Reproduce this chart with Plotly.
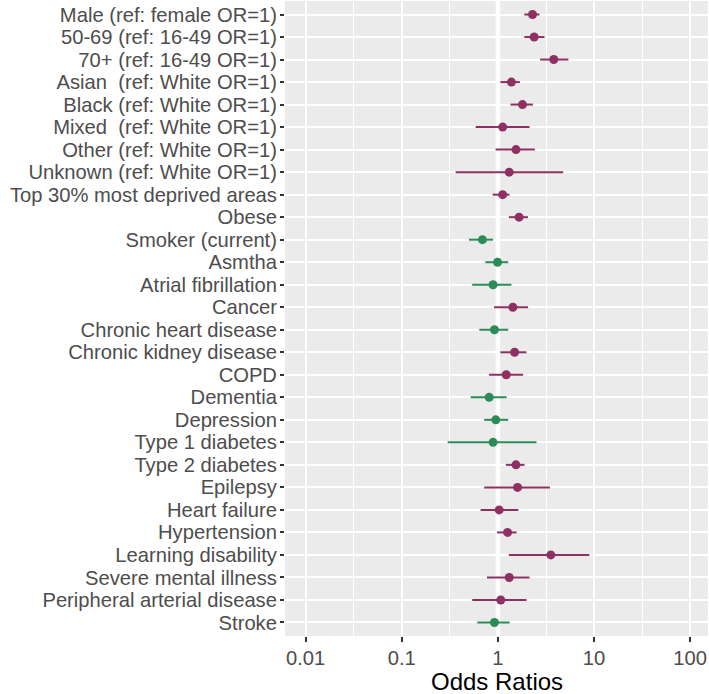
import plotly.graph_objects as go

categories = [
    "Male (ref: female OR=1)",
    "50-69 (ref: 16-49 OR=1)",
    "70+ (ref: 16-49 OR=1)",
    "Asian  (ref: White OR=1)",
    "Black (ref: White OR=1)",
    "Mixed  (ref: White OR=1)",
    "Other (ref: White OR=1)",
    "Unknown (ref: White OR=1)",
    "Top 30% most deprived areas",
    "Obese",
    "Smoker (current)",
    "Asmtha",
    "Atrial fibrillation",
    "Cancer",
    "Chronic heart disease",
    "Chronic kidney disease",
    "COPD",
    "Dementia",
    "Depression",
    "Type 1 diabetes",
    "Type 2 diabetes",
    "Epilepsy",
    "Heart failure",
    "Hypertension",
    "Learning disability",
    "Severe mental illness",
    "Peripheral arterial disease",
    "Stroke",
]
odds_ratio = [2.29, 2.38, 3.81, 1.38, 1.80, 1.12, 1.54, 1.31, 1.12, 1.66,
              0.69, 0.99, 0.89, 1.43, 0.92, 1.49, 1.22, 0.81, 0.95, 0.89,
              1.54, 1.60, 1.03, 1.26, 3.55, 1.31, 1.07, 0.92]
ci_low = [1.88, 1.88, 2.75, 1.06, 1.35, 0.586, 0.944, 0.363, 0.88, 1.30,
          0.50, 0.74, 0.54, 0.91, 0.64, 1.06, 0.81, 0.52, 0.72, 0.30,
          1.21, 0.72, 0.66, 0.98, 1.30, 0.77, 0.54, 0.61]
ci_high = [2.70, 3.05, 5.41, 1.69, 2.31, 2.13, 2.42, 4.77, 1.32, 2.05,
           0.89, 1.28, 1.38, 2.06, 1.28, 1.98, 1.83, 1.23, 1.28, 2.52,
           1.89, 3.47, 1.63, 1.56, 8.93, 2.13, 1.98, 1.32]
x_tick_vals = [0.01, 0.1, 1, 10, 100]
x_tick_text = ["0.01", "0.1", "1", "10", "100"]
x_title = "Odds Ratios"
reference_or = 1

PURPLE = "#8E3062"
GREEN = "#2B8C57"

fig = go.Figure()
for group, color in (("risk", PURPLE), ("protective", GREEN)):
    idx = [i for i, v in enumerate(odds_ratio) if (v >= reference_or) == (group == "risk")]
    fig.add_trace(go.Scatter(
        x=[odds_ratio[i] for i in idx],
        y=[categories[i] for i in idx],
        mode="markers",
        marker=dict(color=color, size=9),
        error_x=dict(
            type="data", symmetric=False,
            array=[ci_high[i] - odds_ratio[i] for i in idx],
            arrayminus=[odds_ratio[i] - ci_low[i] for i in idx],
            color=color, thickness=2, width=0,
        ),
        showlegend=False,
        hoverinfo="x+y",
    ))

fig.add_shape(type="line", xref="x", yref="paper", x0=reference_or, x1=reference_or,
              y0=0, y1=1, line=dict(color="white", width=4.5), layer="below")

fig.add_annotation(text=x_title, xref="paper", yref="paper", x=0.5, y=0,
                   xanchor="center", yanchor="top", yshift=-31, showarrow=False,
                   borderpad=0, font=dict(size=24, color="black"))

minor_vals = [v * (10 ** 0.5) for v in x_tick_vals[:-1]]
n = len(categories)
fig.update_layout(
    width=709, height=694,
    margin=dict(l=285, r=1, t=1, b=58),
    paper_bgcolor="white",
    plot_bgcolor="#EBEBEB",
    font=dict(family="Liberation Sans, Arial, sans-serif", size=20.2, color="#4D4D4D"),
    xaxis=dict(
        type="log", range=[-2.215, 2.185], automargin=False,
        tickmode="array", tickvals=x_tick_vals, ticktext=x_tick_text,
        showgrid=True, gridcolor="white", gridwidth=2,
        zeroline=False, showline=False,
        ticks="outside", ticklen=5, tickwidth=1.5, tickcolor="#333333",
        ticklabelstandoff=-1,
        minor=dict(tickmode="array", tickvals=minor_vals, showgrid=True,
                   gridcolor="white", gridwidth=1, ticks=""),
    ),
    yaxis=dict(
        type="category", categoryorder="array", categoryarray=categories,
        tickmode="array", tickvals=categories, ticktext=categories,
        range=[n - 1 + 0.6, -0.6], automargin=False,
        showgrid=True, gridcolor="white", gridwidth=2,
        zeroline=False, showline=False,
        ticks="outside", ticklen=4, tickwidth=1.5, tickcolor="#333333",
        ticklabelstandoff=-1,
    ),
)

fig.write_html("out.html", config={"displayModeBar": False},
               post_script="document.body.style.margin='0';document.body.style.overflow='hidden';")
